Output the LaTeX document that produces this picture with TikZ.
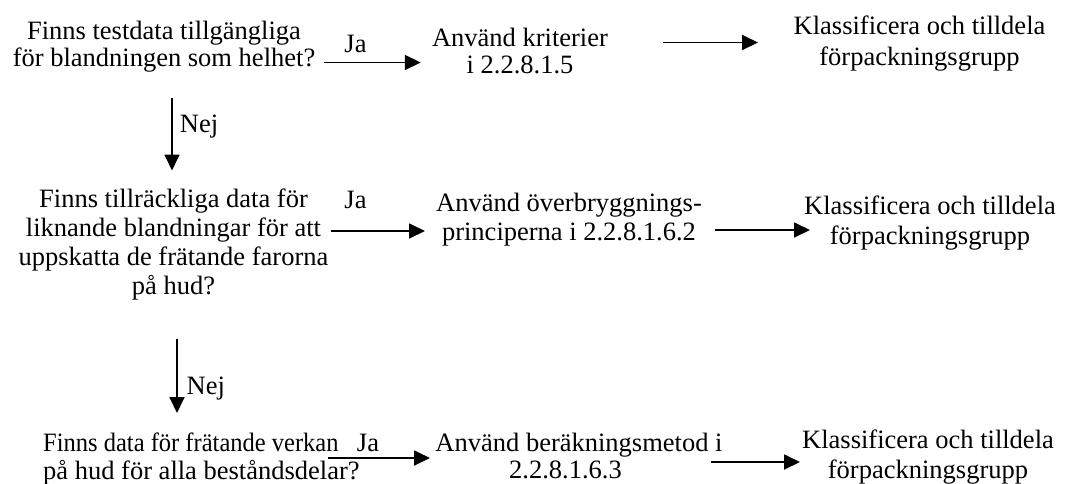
\documentclass[tikz,border=0pt]{standalone}
\usepackage{fontspec}
\usepackage{graphicx}
\setmainfont{Liberation Serif}
\usetikzlibrary{arrows.meta}
\begin{document}
\begin{tikzpicture}[x=1pt,y=-1pt,
  txt/.style={font=\fontsize{26.5}{#1}\selectfont, align=center, inner sep=0pt},
  lbl/.style={font=\fontsize{26.5}{28}\selectfont, inner sep=0pt, anchor=base},
  arr/.style={line width=1.8pt, -{Triangle[length=16pt,width=15pt]}}]
\useasboundingbox (0,0) rectangle (1068,483);
% row 1
\node[txt=27.4] (q1) at (164,47.5) {\strut Finns testdata tillgängliga\\\strut för blandningen som helhet?};
\node[txt=27] (a1) at (520,54.1) {\strut Använd kriterier\\\strut i 2.2.8.1.5};
\node[txt=30.4] (k1) at (919.5,44) {\strut Klassificera och tilldela\\\strut förpackningsgrupp};
\node[lbl] (ja1) at (355.5,52.3) {Ja};
% row 2
\node[txt=29.2] (q2) at (173.5,245.2) {\strut Finns tillräckliga data för\\\strut liknande blandningar för att\\\strut uppskatta de frätande farorna\\\strut på hud?};
\node[txt=28.3] (a2) at (569,220.2) {\strut Använd överbryggnings-\\\strut principerna i 2.2.8.1.6.2};
\node[txt=30.4] (k2) at (930,223.5) {\strut Klassificera och tilldela\\\strut förpackningsgrupp};
\node[lbl] (ja2) at (355.5,208) {Ja};
% row 3
\node[txt=27, align=left, anchor=west] (q3) at (43,460) {\strut\scalebox{0.925}[1]{Finns data för frätande verkan}\\\strut på hud för alla beståndsdelar?};
\node[txt=27] (a3) at (579,459.1) {\strut Använd beräkningsmetod i\\\strut 2.2.8.1.6.3\hspace*{27pt}};
\node[txt=30] (k3) at (928,457) {\strut Klassificera och tilldela\\\strut förpackningsgrupp};
\node[lbl] (ja3) at (368,451) {Ja};
% vertical labels
\node[lbl] (nej1) at (199,132.6) {Nej};
\node[lbl] (nej2) at (205.8,394) {Nej};
% arrow end points
\coordinate (h1s) at (323.7,62.5); \coordinate (h1e) at (420.8,62.5);
\coordinate (h2s) at (663,42.5);   \coordinate (h2e) at (758,42.5);
\coordinate (h3s) at (330.6,231);  \coordinate (h3e) at (425,231);
\coordinate (h4s) at (715,230);    \coordinate (h4e) at (810,230);
\coordinate (h5s) at (328,458);    \coordinate (h5e) at (430,458);
\coordinate (h6s) at (711,462);    \coordinate (h6e) at (800,462);
\coordinate (v1s) at (172,98);     \coordinate (v1e) at (172,170.5);
\coordinate (v2s) at (177,339);    \coordinate (v2e) at (177,413);
\draw[arr] (h1s) -- (h1e);
\draw[arr] (h2s) -- (h2e);
\draw[arr] (h3s) -- (h3e);
\draw[arr] (h4s) -- (h4e);
\draw[arr] (h5s) -- (h5e);
\draw[arr] (h6s) -- (h6e);
\draw[arr] (v1s) -- (v1e);
\draw[arr] (v2s) -- (v2e);
\end{tikzpicture}
\end{document}
